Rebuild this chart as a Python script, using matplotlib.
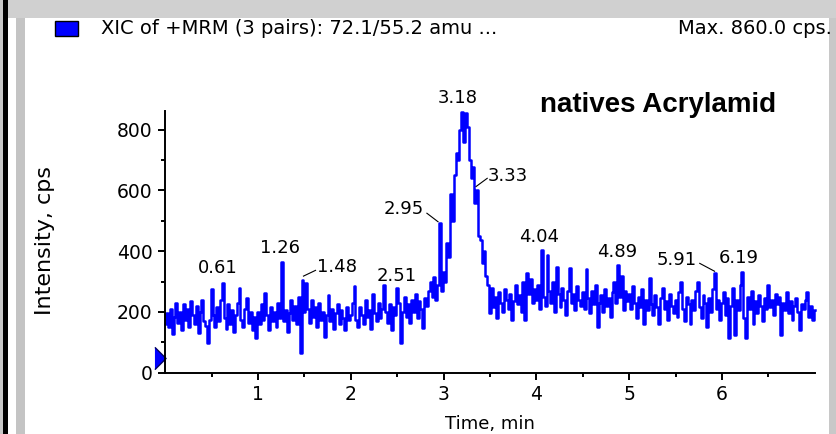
import numpy as np
import matplotlib.pyplot as plt
from matplotlib.patches import Rectangle

# XIC trace, one reading every 0.02 min from 0.00 to 7.00 min (cps)
scan_step = 0.02
intensity = [
    # 0.00 - 0.48
    160, 195, 150, 210, 128, 185, 230, 165, 200, 140, 225, 175, 210, 150, 235, 190, 160, 220, 130, 200, 240, 170, 155, 98, 175,
    # 0.50 - 0.98
    275, 190, 150, 215, 170, 240, 295, 180, 145, 225, 160, 205, 135, 190, 230, 280, 175, 150, 210, 245, 165, 200, 140, 185, 114,
    # 1.00 - 1.48
    200, 160, 225, 175, 262, 190, 140, 215, 170, 200, 150, 230, 180, 365, 170, 205, 135, 195, 240, 175, 220, 160, 250, 64, 305,
    # 1.50 - 1.98
    200, 294, 210, 165, 240, 185, 215, 150, 230, 175, 200, 118, 190, 255, 170, 210, 145, 195, 225, 160, 205, 180, 140, 215, 175,
    # 2.00 - 2.48
    190, 230, 285, 175, 150, 215, 190, 160, 240, 185, 205, 145, 260, 195, 170, 230, 180, 210, 288, 200, 165, 225, 140, 215, 190,
    # 2.50 - 2.98
    279, 230, 98, 200, 250, 185, 225, 165, 240, 200, 260, 180, 235, 210, 147, 245, 220, 270, 300, 250, 315, 240, 290, 492, 270,
    # 3.00 - 3.48
    330, 300, 427, 380, 590, 500, 650, 722, 700, 800, 859, 760, 856, 810, 700, 640, 678, 560, 600, 450, 437, 360, 400, 320, 290,
    # 3.50 - 3.98
    196, 280, 215, 250, 180, 265, 230, 200, 275, 240, 210, 260, 173, 235, 290, 225, 255, 200, 300, 173, 327, 260, 310, 230, 275,
    # 4.00 - 4.48
    240, 290, 210, 404, 250, 220, 387, 270, 230, 300, 200, 349, 260, 215, 280, 240, 190, 270, 345, 230, 260, 205, 285, 240, 220,
    # 4.50 - 4.98
    265, 210, 340, 245, 195, 270, 225, 290, 151, 230, 255, 200, 275, 220, 245, 185, 265, 300, 230, 354, 250, 320, 205, 270, 235,
    # 5.00 - 5.48
    260, 210, 285, 230, 180, 250, 215, 275, 160, 240, 205, 311, 225, 190, 255, 215, 160, 245, 280, 210, 235, 175, 260, 220, 195,
    # 5.50 - 5.98
    240, 185, 265, 299, 210, 170, 250, 225, 160, 240, 205, 270, 299, 215, 180, 255, 230, 150, 245, 200, 275, 328, 210, 240, 175,
    # 6.00 - 6.48
    230, 265, 190, 245, 113, 220, 280, 124, 240, 205, 290, 332, 180, 113, 250, 210, 270, 160, 235, 195, 255, 220, 170, 245, 210,
    # 6.50 - 7.00
    288, 215, 240, 190, 260, 225, 250, 124, 230, 205, 265, 195, 235, 175, 220, 245, 200, 140, 225, 210, 240, 266, 185, 220, 175, 205,
]
time = np.arange(len(intensity)) * scan_step

# apex labels (retention time text) and where they sit (min, cps)
peak_labels = ['0.61', '1.26', '1.48', '2.51', '2.95', '3.18', '3.33', '4.04', '4.89', '5.91', '6.19']
label_pos = [(0.57, 344), (1.24, 412), (1.85, 349), (2.49, 319), (2.57, 538), (3.155, 903),
             (3.69, 648), (4.03, 447), (4.87, 398), (5.51, 371), (6.18, 379)]
# little leader ticks for the labels that were shifted aside
leaders = {'1.48': [(1.49, 318), (1.62, 337)],
           '2.95': [(2.82, 525), (2.94, 497)],
           '3.33': [(3.35, 613), (3.47, 640)],
           '5.91': [(5.76, 360), (5.92, 334)]}

baseline_level = 47
legend_text = 'XIC of +MRM (3 pairs): 72.1/55.2 amu ...'
max_text = 'Max. 860.0 cps.'
title_text = 'natives Acrylamid'

W, H = 836, 434
plt.rcParams['font.family'] = ['DejaVu Sans']
fig = plt.figure(figsize=(W / 100, H / 100), dpi=100)
fig.patch.set_facecolor('white')


def px_rect(x0, y0, x1, y1, color):
    # rectangle given in pixels, y counted from the top
    fig.add_artist(Rectangle((x0 / W, 1 - y1 / H), (x1 - x0) / W, (y1 - y0) / H,
                             transform=fig.transFigure, facecolor=color, edgecolor='none'))


# window frame bits
px_rect(0, 0, 3, H, '#c8c8c8')
px_rect(3, 0, 7.5, H, 'black')
px_rect(7.5, 0, W, 18, '#d0d0d0')
px_rect(15.5, 18, 25, H, '#c4c4c4')
px_rect(829, 18, W, H, '#c8c8c8')

x0, x1 = 165.2, 814.8
y_top, y_bot = 111.5, 372.7
ax = fig.add_axes([x0 / W, 1 - y_bot / H, (x1 - x0) / W, (y_bot - y_top) / H])
ax.plot(time, intensity, color='#0000ff', lw=1.8, drawstyle='steps-mid', clip_on=False)
ax.set_xlim(0, 7.0)
ax.set_ylim(0, 860)

for s in ['top', 'right']:
    ax.spines[s].set_visible(False)
for s in ['left', 'bottom']:
    ax.spines[s].set_linewidth(1.4)

ax.set_xticks([1, 2, 3, 4, 5, 6])
ax.set_xticks(np.arange(0.5, 7.0, 1.0), minor=True)
ax.set_yticks([0, 200, 400, 600, 800])
ax.set_yticks([100, 300, 500, 700], minor=True)
ax.tick_params(which='major', length=5, width=1.4, labelsize=13.5, pad=4)
ax.tick_params(which='minor', length=3, width=1.4)
ax.set_xlabel('Time, min', fontsize=13, labelpad=8)
ax.set_ylabel('Intensity, cps', fontsize=16)
ax.yaxis.set_label_coords(-0.17, 0.508)

for lab, (tx, ty) in zip(peak_labels, label_pos):
    ax.text(tx, ty, lab, fontsize=13, ha='center', va='center', clip_on=False)
for lab, pts in leaders.items():
    xs, ys = zip(*pts)
    ax.plot(xs, ys, color='black', lw=0.8, clip_on=False)

# baseline marker on the y axis
ax.plot([-0.06], [baseline_level], marker=[(-0.5, -1), (0.5, 0), (-0.5, 1)], markersize=16,
        color='#0000ff', markeredgecolor='#000060', markeredgewidth=1, clip_on=False)

# header line
fig.add_artist(Rectangle((55 / W, 1 - 36 / H), 23 / W, 15 / H, transform=fig.transFigure,
                         facecolor='#0000ff', edgecolor='black', lw=1))
fig.text(101 / W, 1 - 29 / H, legend_text, fontsize=14, ha='left', va='center')
fig.text(832 / W, 1 - 29 / H, max_text, fontsize=14, ha='right', va='center')
fig.text(540 / W, 1 - 111.5 / H, title_text, fontsize=20, fontweight='bold',
         family='Liberation Sans', ha='left', va='baseline')

fig.savefig('out.png', dpi=100)
